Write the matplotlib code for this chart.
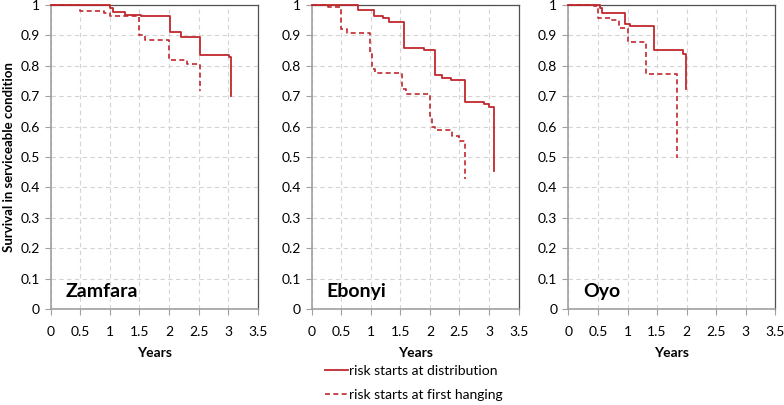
import matplotlib.pyplot as plt
from matplotlib.ticker import FuncFormatter

plt.rcParams['font.family'] = ['Lato', 'DejaVu Sans']

# survival curves (time in years, survival fraction)
regions = ["Zamfara", "Ebonyi", "Oyo"]

zam_dist_t = [0, 0.5, 1.0, 1.05, 1.25, 1.52, 2.02, 2.2, 2.52, 3.02, 3.05]
zam_dist_s = [1, 0.998, 0.99, 0.975, 0.967, 0.962, 0.91, 0.893, 0.836, 0.828, 0.70]
zam_hang_t = [0, 0.5, 0.9, 1.0, 1.5, 1.6, 2.0, 2.3, 2.52]
zam_hang_s = [1, 0.98, 0.972, 0.962, 0.90, 0.886, 0.818, 0.805, 0.716]

ebo_dist_t = [0, 0.5, 0.78, 1.05, 1.2, 1.30, 1.57, 1.9, 2.08, 2.2, 2.35, 2.59, 2.92, 3.0, 3.08]
ebo_dist_s = [1, 0.998, 0.984, 0.964, 0.957, 0.944, 0.857, 0.853, 0.768, 0.76, 0.752, 0.682, 0.675, 0.665, 0.453]
ebo_hang_t = [0, 0.28, 0.5, 0.6, 0.98, 1.02, 1.07, 1.52, 1.6, 2.0, 2.04, 2.08, 2.38, 2.5, 2.59]
ebo_hang_s = [1, 0.993, 0.92, 0.907, 0.84, 0.79, 0.775, 0.722, 0.708, 0.635, 0.597, 0.59, 0.57, 0.553, 0.428]

oyo_dist_t = [0, 0.45, 0.53, 0.57, 0.95, 1.05, 1.45, 1.93, 1.99]
oyo_dist_s = [1, 0.998, 0.99, 0.972, 0.938, 0.93, 0.851, 0.84, 0.722]
oyo_hang_t = [0, 0.43, 0.5, 0.7, 0.85, 1.01, 1.32, 1.84]
oyo_hang_s = [1, 0.995, 0.957, 0.949, 0.924, 0.877, 0.772, 0.495]

curves = [
    (zam_dist_t, zam_dist_s, zam_hang_t, zam_hang_s),
    (ebo_dist_t, ebo_dist_s, ebo_hang_t, ebo_hang_s),
    (oyo_dist_t, oyo_dist_s, oyo_hang_t, oyo_hang_s),
]

red = '#C0282D'
fig = plt.figure(figsize=(7.84, 4.05), dpi=100)
lefts = [0.0647, 0.3975, 0.725]

fmt = FuncFormatter(lambda v, p: ('%g' % round(v, 2)))

for i, name in enumerate(regions):
    ax = fig.add_axes([lefts[i], 0.237, 0.264, 0.751])
    dt, ds, ht, hs = curves[i]
    ax.set_xlim(0, 3.5)
    ax.set_ylim(0, 1)
    ax.set_xticks([0, 0.5, 1, 1.5, 2, 2.5, 3, 3.5])
    ax.set_yticks([i / 10 for i in range(11)])
    ax.xaxis.set_major_formatter(fmt)
    ax.yaxis.set_major_formatter(fmt)
    ax.grid(True, color='#d4d4d4', ls=(0, (4, 3)), lw=0.8)
    ax.set_axisbelow(True)
    for s in ['top', 'right']:
        ax.spines[s].set_color('#505050')
        ax.spines[s].set_linewidth(0.9)
    for s in ['left', 'bottom']:
        ax.spines[s].set_color('#a0a0a0')
        ax.spines[s].set_linewidth(1.2)
    l1, = ax.plot(dt, ds, drawstyle='steps-post', color=red, lw=1.3, clip_on=False, zorder=5)
    l2, = ax.plot(ht, hs, drawstyle='steps-post', color=red, lw=1.2, ls=(0, (3, 2)),
                  clip_on=False, zorder=4)
    ax.tick_params(axis='both', labelsize=10, color='#a0a0a0', length=4, pad=4)
    ax.tick_params(axis='x', pad=8)
    ax.set_xlabel('Years', fontsize=10, fontweight='bold', labelpad=7)
    ax.text(0.25, 0.03, name, fontsize=14, fontweight='bold', ha='left', va='bottom')
    if i == 0:
        ax.set_ylabel('Survival in serviceable condition', fontsize=9.5, fontweight='bold', labelpad=4)

fig.legend([l1, l2], ['risk starts at distribution', 'risk starts at first hanging'],
           loc='upper left', bbox_to_anchor=(0.408, 0.113), frameon=False, fontsize=10,
           handlelength=1.6, handletextpad=0.1, labelspacing=0.85, borderaxespad=0)

fig.savefig('out.png', dpi=100)
